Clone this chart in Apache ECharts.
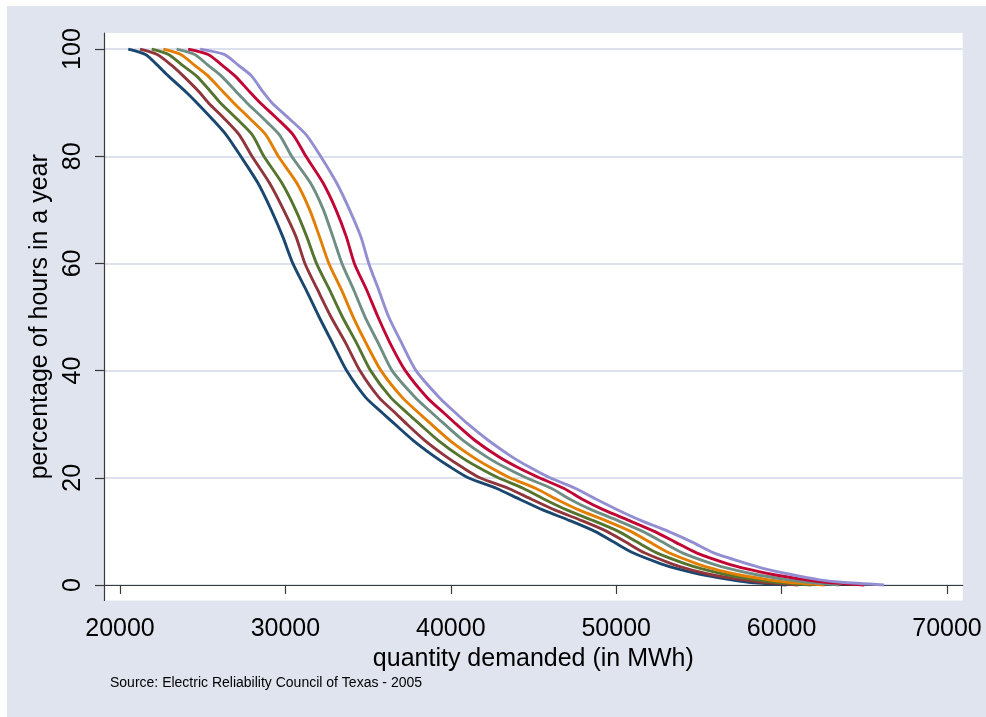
<!DOCTYPE html>
<html>
<head>
<meta charset="utf-8">
<script src="https://cdn.jsdelivr.net/npm/echarts@6/dist/echarts.min.js"></script>
<style>
  html, body { margin: 0; padding: 0; background: #ffffff; }
  #chart { position: absolute; left: 7px; top: 6px; width: 979px; height: 711px; }
</style>
</head>
<body>
<div id="chart"></div>
<script>
// percentage of hours in a year (y levels)
const pct = [100, 99, 97, 95, 92, 90, 87, 84, 80, 75, 70, 65, 60, 55, 50, 45, 40, 35, 32, 30, 27, 24, 22, 20, 18, 16, 14, 12, 10, 8, 6, 4, 3, 2, 1, 0.5, 0];

// quantity demanded (MWh) at each level, one array per curve
const curve1 = [20500, 21540, 22260, 22920, 23990, 24640, 25560, 26420, 27300, 28340, 29140, 29840, 30450, 31260, 32040, 32870, 33700, 34850, 35900, 36620, 37720, 39000, 39970, 41050, 42780, 44160, 45560, 47200, 48710, 49860, 51010, 52670, 53720, 55070, 56880, 58000, 60300];
const curve2 = [21210, 22250, 23110, 23820, 24790, 25340, 26310, 27210, 27980, 29040, 29890, 30640, 31180, 31960, 32760, 33670, 34500, 35650, 36680, 37350, 38420, 39700, 40670, 41760, 43500, 44880, 46280, 47920, 49430, 50580, 51710, 53320, 54320, 55620, 57530, 58800, 61000];
const curve3 = [21920, 22940, 23760, 24620, 25500, 26060, 27060, 28000, 28700, 29790, 30620, 31290, 31880, 32680, 33450, 34330, 35150, 36360, 37400, 38120, 39230, 40560, 41630, 42870, 44400, 45650, 47010, 48620, 50130, 51270, 52450, 54150, 55200, 56550, 58400, 59600, 61800];
const curve4 = [22620, 23680, 24500, 25320, 26240, 26860, 27860, 28820, 29570, 30690, 31470, 32060, 32630, 33400, 34100, 34900, 35780, 37060, 38100, 38820, 39930, 41280, 42350, 43570, 45150, 46390, 47740, 49370, 50870, 52030, 53190, 54850, 55900, 57250, 59150, 60400, 62600];
const curve5 = [23420, 24520, 25320, 26120, 27040, 27660, 28680, 29640, 30380, 31520, 32300, 32870, 33420, 34140, 34820, 35640, 36450, 37850, 38900, 39620, 40740, 42120, 43240, 44560, 46100, 47200, 48520, 50110, 51600, 52800, 54000, 55770, 56900, 58350, 60300, 61600, 63500];
const curve6 = [24120, 25330, 26170, 26950, 27850, 28470, 29510, 30470, 31240, 32280, 33060, 33680, 34170, 34920, 35600, 36350, 37250, 38560, 39620, 40330, 41450, 42850, 44000, 45350, 46850, 47950, 49250, 50800, 52300, 53570, 54850, 56700, 57900, 59400, 61400, 62700, 65000];
const curve7 = [24840, 26300, 27150, 27950, 28650, 29180, 30240, 31260, 32130, 33100, 33880, 34560, 35040, 35650, 36250, 37050, 37900, 39300, 40330, 41050, 42260, 43650, 44750, 46000, 47550, 48800, 50100, 51520, 53150, 54600, 55900, 57900, 59000, 60500, 62200, 63600, 66200];

const curves = [curve1, curve2, curve3, curve4, curve5, curve6, curve7];
const colors = ['#1a476f', '#90353b', '#55752f', '#e37e00', '#6e8e84', '#c10534', '#938dd2'];

const xTicks = [20000, 30000, 40000, 50000, 60000, 70000];
const yTicks = [0, 20, 40, 60, 80, 100];

const FONT = 'Arial, "Liberation Sans", Helvetica, sans-serif';

const chart = echarts.init(document.getElementById('chart'), null, { renderer: 'canvas' });

const series = curves.map((c, i) => ({
  type: 'line',
  name: 'curve' + (i + 1),
  data: c.map((x, j) => [x, pct[j]]),
  showSymbol: false,
  symbol: 'none',
  smooth: 0.25,
  animation: false,
  lineStyle: { color: colors[i], width: 2.9 },
  itemStyle: { color: colors[i] },
  z: 3 + i
}));

chart.setOption({
  backgroundColor: '#e0e4ef',
  animation: false,
  grid: {
    left: 97, top: 27, width: 858.7, height: 567.5,
    show: true, backgroundColor: '#ffffff', borderWidth: 0,
    containLabel: false
  },
  xAxis: {
    type: 'value',
    min: 19033, max: 70950,
    name: 'quantity demanded (in MWh)',
    nameLocation: 'middle',
    nameGap: 41,
    nameTextStyle: { fontFamily: FONT, fontSize: 25, color: '#000' },
    axisLine: { show: true, lineStyle: { color: '#3a3a3a', width: 1.2 } },
    axisTick: { show: true, length: 9, customValues: xTicks, lineStyle: { color: '#3a3a3a', width: 1.2 } },
    axisLabel: { customValues: xTicks, margin: 16, fontFamily: FONT, fontSize: 25, color: '#000',
                 formatter: v => String(v) },
    splitLine: { show: false }
  },
  yAxis: {
    type: 'value',
    min: -2.9, max: 103.0,
    name: 'percentage of hours in a year',
    nameLocation: 'middle',
    nameGap: 42,
    nameTextStyle: { fontFamily: FONT, fontSize: 25, color: '#000' },
    axisLine: { show: true, lineStyle: { color: '#3a3a3a', width: 1.2 } },
    axisTick: { show: true, length: 9, customValues: yTicks, lineStyle: { color: '#3a3a3a', width: 1.2 } },
    axisLabel: { customValues: yTicks, rotate: 90, margin: 18, fontFamily: FONT, fontSize: 25, color: '#000',
                 formatter: v => String(v) },
    splitLine: { show: true, lineStyle: { color: '#dde1ee', width: 2 } }
  },
  graphic: [{
    type: 'text',
    left: 103,
    top: 670,
    style: {
      text: 'Source: Electric Reliability Council of Texas - 2005',
      fontFamily: FONT,
      fontSize: 14,
      fill: '#000'
    }
  }],
  series: series
});
</script>
</body>
</html>
